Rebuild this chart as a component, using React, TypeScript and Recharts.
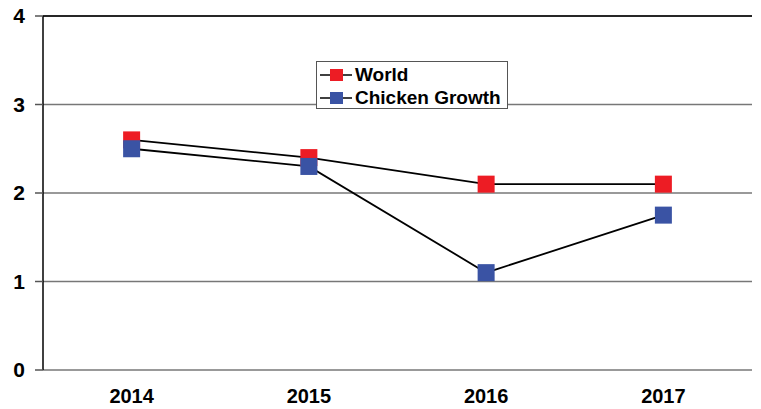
import { LineChart, Line, XAxis, YAxis, CartesianGrid, ReferenceLine } from 'recharts'

const YEARS = ['2014', '2015', '2016', '2017']
const WORLD = [2.6, 2.4, 2.1, 2.1]
const CHICKEN = [2.5, 2.3, 1.1, 1.75]
const Y_TICKS = [0, 1, 2, 3, 4]
const BOUNDARY_TICKS = [0, 1, 2, 3, 4]

const RED = '#ED1C24'
const BLUE = '#3A53A4'
const FONT = '"Liberation Sans", Arial, sans-serif'

const data = YEARS.map((year, i) => ({ year, world: WORLD[i], chicken: CHICKEN[i] }))

// square marker like the old Excel chart
const squareDot = (color: string) => (props: any) => {
  const { cx, cy, index } = props
  if (cx == null || cy == null) return <g key={index} />
  return <rect key={index} x={cx - 8.5} y={cy - 8.5} width={17} height={17} fill={color} />
}

function LegendBox() {
  const rows = [
    { name: 'World', color: RED },
    { name: 'Chicken Growth', color: BLUE },
  ]
  return (
    <div
      style={{
        position: 'absolute',
        left: 316,
        top: 61,
        width: 192,
        height: 48,
        border: '1px solid #555',
        background: '#fff',
        fontFamily: FONT,
        fontWeight: 'bold',
        fontSize: 19,
        boxSizing: 'border-box',
        padding: '1px 0 0 3px',
      }}
    >
      {rows.map((r) => (
        <div key={r.name} style={{ display: 'flex', alignItems: 'center', height: 23, whiteSpace: 'nowrap' }}>
          <svg width={32} height={14} style={{ marginRight: 3 }}>
            <line x1={0} y1={7} x2={32} y2={7} stroke="#000" strokeWidth={1.5} />
            <rect x={10} y={1} width={13} height={12} fill={r.color} />
          </svg>
          <span>{r.name}</span>
        </div>
      ))}
    </div>
  )
}

export default function App() {
  return (
    <div style={{ position: 'absolute', left: 0, top: 0, width: 761, height: 409, background: '#fff' }}>
      <LineChart
        width={761}
        height={409}
        data={data}
        margin={{ top: 16, right: 9, left: 0, bottom: 0 }}
      >
        <CartesianGrid horizontal vertical={false} stroke="#777" strokeWidth={1.5} />
        <ReferenceLine y={4} stroke="#000" strokeWidth={1.5} />
        {/* boundary tick marks between categories */}
        <XAxis
          xAxisId="ticks"
          type="number"
          domain={[0, 4]}
          ticks={BOUNDARY_TICKS}
          height={0}
          tickSize={6}
          tickFormatter={() => ''}
          stroke="#000"
          strokeWidth={1.5}
          tickLine={{ stroke: '#555', strokeWidth: 1.5 }}
        />
        <XAxis
          dataKey="year"
          scale="band"
          height={39}
          axisLine={false}
          tickLine={false}
          tickSize={0}
          tickMargin={19}
          tick={{ fill: '#000', fontFamily: FONT, fontWeight: 'bold', fontSize: 20 }}
        />
        <YAxis
          domain={[0, 4]}
          ticks={Y_TICKS}
          width={43}
          tickSize={8}
          tickMargin={10}
          stroke="#000"
          strokeWidth={1.5}
          tickLine={{ stroke: '#555', strokeWidth: 1.5 }}
          tick={{ fill: '#000', fontFamily: FONT, fontWeight: 'bold', fontSize: 21 }}
        />
        <Line
          dataKey="world"
          stroke="#000"
          strokeWidth={1.8}
          dot={squareDot(RED)}
          activeDot={false}
          isAnimationActive={false}
        />
        <Line
          dataKey="chicken"
          stroke="#000"
          strokeWidth={1.8}
          dot={squareDot(BLUE)}
          activeDot={false}
          isAnimationActive={false}
        />
      </LineChart>
      <LegendBox />
    </div>
  )
}
